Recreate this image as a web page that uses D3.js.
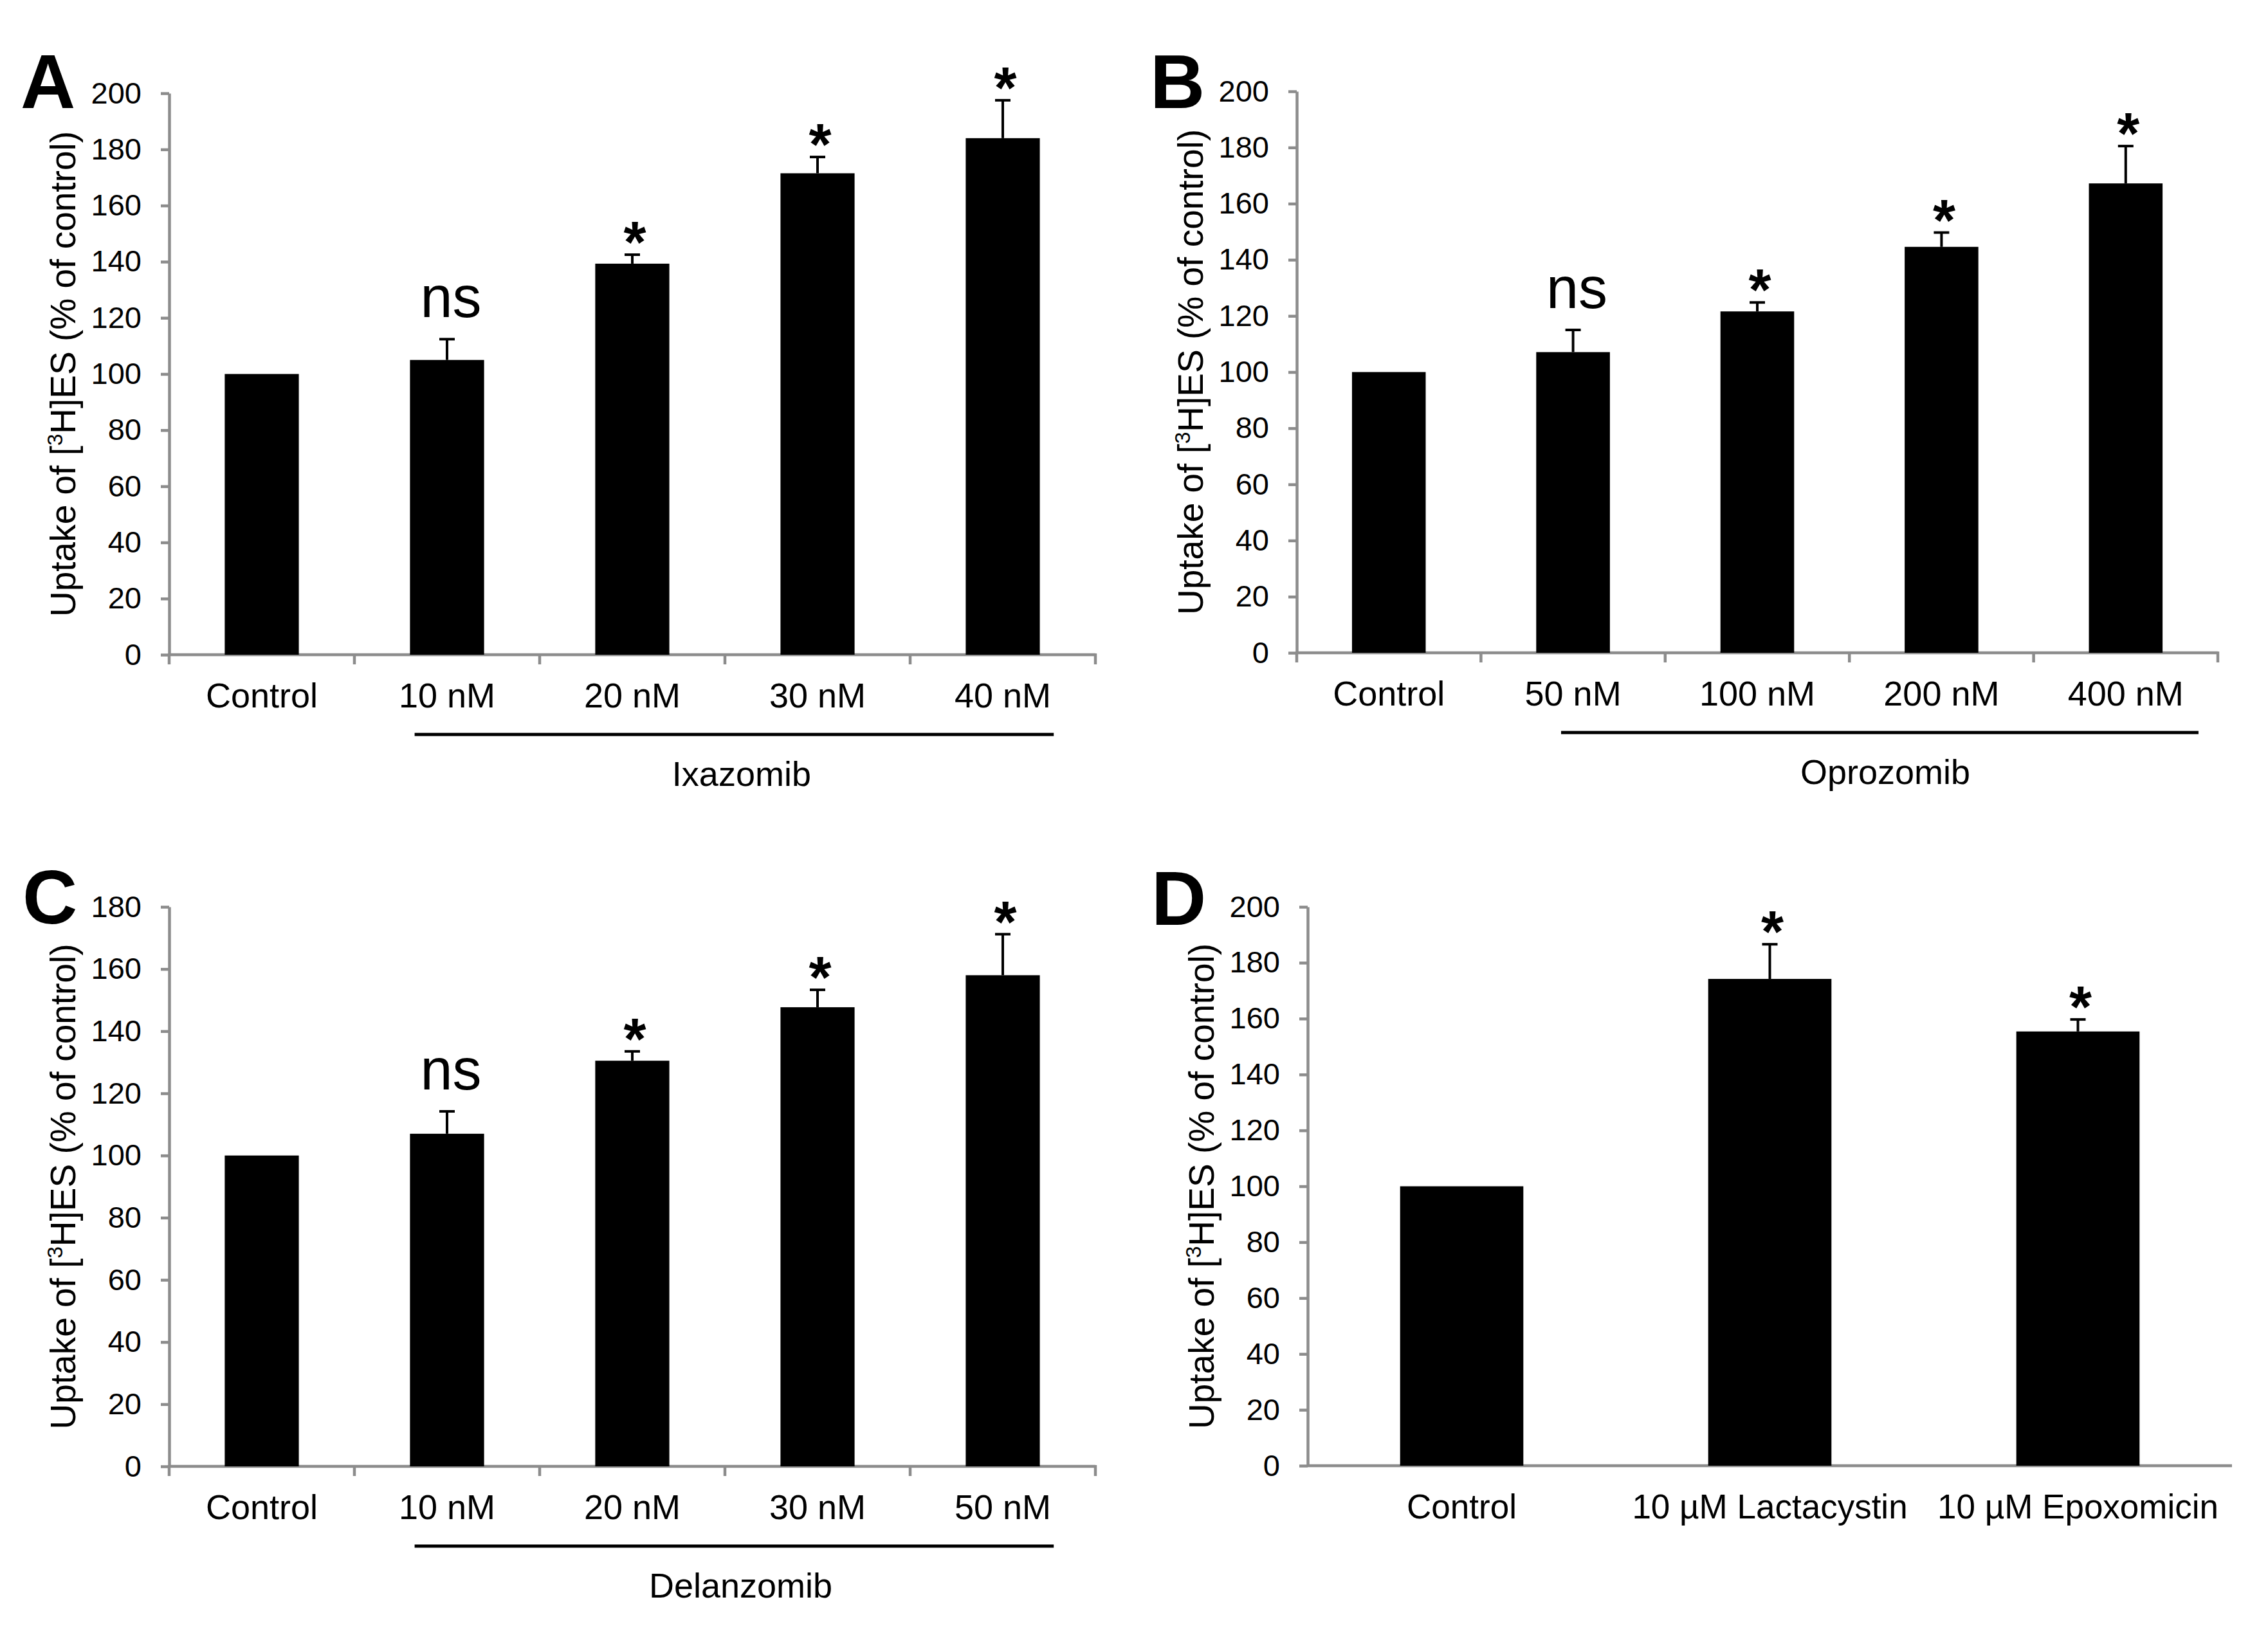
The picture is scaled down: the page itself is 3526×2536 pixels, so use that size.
<!DOCTYPE html>
<html>
<head>
<meta charset="utf-8">
<script src="https://cdn.jsdelivr.net/npm/d3@7"></script>
<style>
    body { margin: 0; background: #fff; }
    svg text { font-family: "Liberation Sans", Arial, sans-serif; fill: #000; }
</style>
</head>
<body>
<div id="chart"></div>
<script>

// ---- data ----

// A: Ixazomib
let catsA = ["Control", "10 nM", "20 nM", "30 nM", "40 nM"];
let meansA = [100, 105, 139.3, 171.5, 184];
let semA = [0, 7.4, 3.2, 5.8, 13.5];
let sigA = ["", "ns", "*", "*", "*"];

// B: Oprozomib
let catsB = ["Control", "50 nM", "100 nM", "200 nM", "400 nM"];
let meansB = [100, 107.1, 121.6, 144.6, 167.2];
let semB = [0, 7.9, 3.2, 5.1, 13.3];
let sigB = ["", "ns", "*", "*", "*"];

// C: Delanzomib
let catsC = ["Control", "10 nM", "20 nM", "30 nM", "50 nM"];
let meansC = [100, 107, 130.5, 147.7, 158];
let semC = [0, 7.2, 3.0, 5.6, 13.2];
let sigC = ["", "ns", "*", "*", "*"];

// D: other inhibitors
let catsD = ["Control", "10 µM Lactacystin", "10 µM Epoxomicin"];
let meansD = [100, 174.2, 155.4];
let semD = [0, 12.4, 4.3];
let sigD = ["", "*", "*"];

let yTicks200 = [0, 20, 40, 60, 80, 100, 120, 140, 160, 180, 200];
let yTicks180 = [0, 20, 40, 60, 80, 100, 120, 140, 160, 180];


class BarPanel {

    constructor(svg, cfg) {
        this.svg = svg;
        this.cfg = cfg;
        this.displayData = cfg.cats.map((c, i) => ({cat: c, mean: cfg.means[i], sem: cfg.sem[i], sig: cfg.sig[i]}));
        this.initVis();
    }

    initVis() {
        let vis = this;
        let c = vis.cfg;
        let axisColor = '#8c8c8c';

        vis.g = vis.svg.append('g');

        vis.x = d3.scaleBand()
            .domain(c.cats)
            .range([c.left, c.right])
            .paddingInner(0.6)
            .paddingOuter(0.3);

        vis.y = d3.scaleLinear()
            .domain([0, c.yMax])
            .range([c.bottom, c.top]);

        // y axis
        let yAxis = vis.g.append('g')
            .attr('class', 'axis y-axis')
            .attr('transform', `translate(${c.left},0)`)
            .call(d3.axisLeft(vis.y).tickValues(c.yTicks).tickSize(13).tickSizeOuter(0).tickPadding(30));
        yAxis.selectAll('path, line').attr('stroke', axisColor).attr('stroke-width', 4.5);
        yAxis.selectAll('text').attr('font-size', 47);

        // x axis line
        vis.g.append('line')
            .attr('x1', c.left).attr('x2', c.right)
            .attr('y1', c.bottom).attr('y2', c.bottom)
            .attr('stroke', axisColor).attr('stroke-width', 4.5);

        // category boundary ticks
        if (c.xTicks) {
            vis.g.selectAll('.xtick')
                .data(d3.range(c.cats.length + 1))
                .enter().append('line')
                .attr('class', 'xtick')
                .attr('x1', i => c.left + i * vis.x.step())
                .attr('x2', i => c.left + i * vis.x.step())
                .attr('y1', c.bottom - 2)
                .attr('y2', c.bottom + 15)
                .attr('stroke', axisColor).attr('stroke-width', 4.5);
        }

        // category labels
        vis.g.selectAll('.cat-label')
            .data(vis.displayData)
            .enter().append('text')
            .attr('class', 'cat-label')
            .attr('x', d => vis.x(d.cat) + vis.x.bandwidth() / 2)
            .attr('y', c.bottom + 82)
            .attr('text-anchor', 'middle')
            .attr('font-size', c.catFont)
            .text(d => d.cat);

        // y axis title
        let title = vis.g.append('text')
            .attr('transform', `translate(${c.left - 146}, ${(c.top + c.bottom) / 2}) rotate(-90)`)
            .attr('text-anchor', 'middle')
            .attr('font-size', 55);
        title.append('tspan').text('Uptake of [');
        title.append('tspan').attr('font-size', 33).attr('dy', -20).text('3');
        title.append('tspan').attr('dy', 20).text('H]ES (% of control)');

        // panel letter
        vis.g.append('text')
            .attr('x', c.letterX)
            .attr('y', c.letterY)
            .attr('font-size', 118)
            .attr('font-weight', 'bold')
            .text(c.letter);

        // drug group underline + name
        if (c.group) {
            let w = c.right - c.left;
            vis.g.append('line')
                .attr('x1', c.left + c.ulStart * w).attr('x2', c.left + c.ulEnd * w)
                .attr('y1', c.bottom + 124).attr('y2', c.bottom + 124)
                .attr('stroke', '#000').attr('stroke-width', 5);
            vis.g.append('text')
                .attr('x', c.left + c.groupX * w)
                .attr('y', c.bottom + 204)
                .attr('text-anchor', 'middle')
                .attr('font-size', 54)
                .text(c.group);
        }

        vis.updateVis();
    }

    updateVis() {
        let vis = this;
        let c = vis.cfg;
        let cx = d => vis.x(d.cat) + vis.x.bandwidth() / 2;

        vis.g.selectAll('.bar')
            .data(vis.displayData)
            .enter().append('rect')
            .attr('class', 'bar')
            .attr('x', d => vis.x(d.cat))
            .attr('y', d => vis.y(d.mean))
            .attr('width', vis.x.bandwidth())
            .attr('height', d => c.bottom - vis.y(d.mean))
            .attr('fill', '#000');

        let errData = vis.displayData.filter(d => d.sem > 0);

        vis.g.selectAll('.err')
            .data(errData)
            .enter().append('line')
            .attr('class', 'err')
            .attr('x1', cx).attr('x2', cx)
            .attr('y1', d => vis.y(d.mean))
            .attr('y2', d => vis.y(d.mean + d.sem))
            .attr('stroke', '#000').attr('stroke-width', 4);

        vis.g.selectAll('.cap')
            .data(errData)
            .enter().append('line')
            .attr('class', 'cap')
            .attr('x1', d => cx(d) - 12).attr('x2', d => cx(d) + 12)
            .attr('y1', d => vis.y(d.mean + d.sem))
            .attr('y2', d => vis.y(d.mean + d.sem))
            .attr('stroke', '#000').attr('stroke-width', 4);

        // significance marks
        vis.g.selectAll('.sig')
            .data(vis.displayData.filter(d => d.sig !== ''))
            .enter().append('text')
            .attr('class', 'sig')
            .attr('x', d => cx(d) + (d.sig === '*' ? 4 : 6))
            .attr('y', d => d.sig === '*' ? vis.y(d.mean + d.sem) + 12 : vis.y(d.mean + d.sem) - 34)
            .attr('text-anchor', 'middle')
            .attr('font-size', d => d.sig === '*' ? 90 : 90)
            .attr('font-weight', d => d.sig === '*' ? 'bold' : 'normal')
            .text(d => d.sig);
    }
}


let svg = d3.select('#chart').append('svg')
    .attr('width', 3526)
    .attr('height', 2536);

new BarPanel(svg, {
    cats: catsA, means: meansA, sem: semA, sig: sigA,
    left: 263, right: 1703, top: 145, bottom: 1018, yMax: 200, yTicks: yTicks200,
    xTicks: true, catFont: 54, letter: 'A', letterX: 32, letterY: 168,
    group: 'Ixazomib', ulStart: 0.265, ulEnd: 0.955, groupX: 0.618
});

new BarPanel(svg, {
    cats: catsB, means: meansB, sem: semB, sig: sigB,
    left: 2016, right: 3448, top: 142, bottom: 1015, yMax: 200, yTicks: yTicks200,
    xTicks: true, catFont: 54, letter: 'B', letterX: 1788, letterY: 168,
    group: 'Oprozomib', ulStart: 0.287, ulEnd: 0.979, groupX: 0.639
});

new BarPanel(svg, {
    cats: catsC, means: meansC, sem: semC, sig: sigC,
    left: 263, right: 1703, top: 1410, bottom: 2280, yMax: 180, yTicks: yTicks180,
    xTicks: true, catFont: 54, letter: 'C', letterX: 35, letterY: 1436,
    group: 'Delanzomib', ulStart: 0.265, ulEnd: 0.955, groupX: 0.617
});

new BarPanel(svg, {
    cats: catsD, means: meansD, sem: semD, sig: sigD,
    left: 2033, right: 3470, top: 1410, bottom: 2279, yMax: 200, yTicks: yTicks200,
    xTicks: false, catFont: 53, letter: 'D', letterX: 1790, letterY: 1438,
    group: null
});

</script>
</body>
</html>
